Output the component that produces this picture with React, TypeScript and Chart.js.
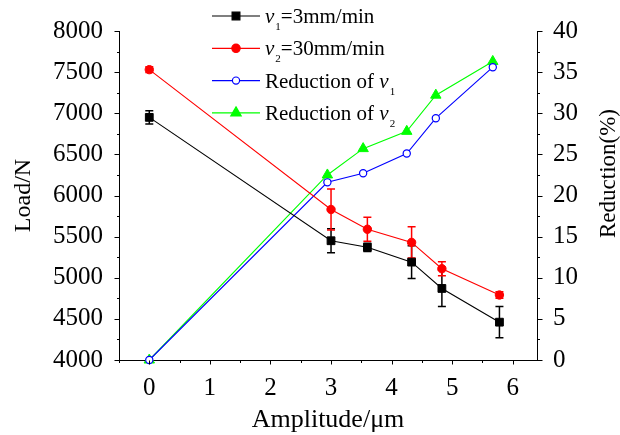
import React, { useEffect, useRef } from 'react';
import { Chart, registerables } from 'chart.js';

Chart.register(...registerables);

// ---- data ----
const loadAmplitude = [0, 3.0, 3.6, 4.33, 4.83, 5.78];
const reductionAmplitude = [0, 2.94, 3.53, 4.25, 4.73, 5.67];
const loadV1 = [6950, 5450, 5370, 5190, 4870, 4460];
const loadV1Err = [80, 145, 50, 200, 220, 190];
const loadV2 = [7530, 5830, 5590, 5430, 5110, 4790];
const loadV2Err = [35, 250, 145, 190, 85, 40];
const reductionV1 = [0, 21.6, 22.7, 25.1, 29.4, 35.6];
const reductionV2 = [0, 22.5, 25.7, 27.8, 32.2, 36.3];

const xMajorTicks = [0, 1, 2, 3, 4, 5, 6];
const xMinorTicks = [-0.5, 0.5, 1.5, 2.5, 3.5, 4.5, 5.5];
const loadMajorTicks = [4000, 4500, 5000, 5500, 6000, 6500, 7000, 7500, 8000];
const loadMinorTicks = [4250, 4750, 5250, 5750, 6250, 6750, 7250, 7750];
const reductionMajorTicks = [0, 5, 10, 15, 20, 25, 30, 35, 40];
const reductionMinorTicks = [2.5, 7.5, 12.5, 17.5, 22.5, 27.5, 32.5, 37.5];

const xTitle = 'Amplitude/\u03bcm';
const loadTitle = 'Load/N';
const reductionTitle = 'Reduction(%)';

type Part = { t: string; i?: boolean; s?: boolean };
const legendV1: Part[] = [{ t: 'v', i: true }, { t: '1', s: true }, { t: '=3mm/min' }];
const legendV2: Part[] = [{ t: 'v', i: true }, { t: '2', s: true }, { t: '=30mm/min' }];
const legendR1: Part[] = [{ t: 'Reduction of ' }, { t: 'v', i: true }, { t: '1', s: true }];
const legendR2: Part[] = [{ t: 'Reduction of ' }, { t: 'v', i: true }, { t: '2', s: true }];

const FONT = '"Liberation Serif", "Times New Roman", serif';

function pts(xs: number[], ys: number[]) {
  return xs.map((x, i) => ({ x, y: ys[i] }));
}

function drawMarker(ctx: CanvasRenderingContext2D, style: string, x: number, y: number, color: string, fill: string, r: number) {
  ctx.save();
  ctx.fillStyle = fill;
  ctx.strokeStyle = color;
  ctx.lineWidth = 1.2;
  ctx.beginPath();
  if (style === 'rect') {
    const s = Math.SQRT1_2 * r;
    ctx.rect(x - s, y - s, 2 * s, 2 * s);
  } else if (style === 'triangle') {
    for (let k = 0; k < 3; k++) {
      const a = -Math.PI / 2 + k * (2 * Math.PI / 3);
      const px = x + Math.cos(a) * r;
      const py = y + Math.sin(a) * r;
      if (k === 0) ctx.moveTo(px, py); else ctx.lineTo(px, py);
    }
    ctx.closePath();
  } else {
    ctx.arc(x, y, r, 0, Math.PI * 2);
  }
  ctx.fill();
  ctx.stroke();
  ctx.restore();
}

const errorBarPlugin = {
  id: 'errorBars',
  beforeDatasetsDraw(chart: any) {
    const ctx = chart.ctx as CanvasRenderingContext2D;
    chart.data.datasets.forEach((ds: any) => {
      if (!ds.errors) return;
      const xs = chart.scales.x;
      const ys = chart.scales[ds.yAxisID];
      ctx.save();
      ctx.strokeStyle = ds.borderColor;
      ctx.lineWidth = 1.5;
      ds.data.forEach((p: any, j: number) => {
        const e = ds.errors[j];
        const px = xs.getPixelForValue(p.x);
        const top = ys.getPixelForValue(p.y + e);
        const bot = ys.getPixelForValue(p.y - e);
        ctx.beginPath();
        ctx.moveTo(px, top);
        ctx.lineTo(px, bot);
        ctx.moveTo(px - 4, top);
        ctx.lineTo(px + 4, top);
        ctx.moveTo(px - 4, bot);
        ctx.lineTo(px + 4, bot);
        ctx.stroke();
      });
      ctx.restore();
    });
  },
};

const tickPlugin = {
  id: 'axisTicks',
  afterDraw(chart: any) {
    const ctx = chart.ctx as CanvasRenderingContext2D;
    const { left, right, bottom, top } = chart.chartArea;
    const x = chart.scales.x;
    const y = chart.scales.y;
    const y1 = chart.scales.y1;
    ctx.save();
    ctx.strokeStyle = '#000';
    ctx.lineWidth = 1;
    ctx.beginPath();
    const b = Math.round(bottom) + 0.5;
    const l = Math.round(left) + 0.5;
    const r = Math.round(right) + 0.5;
    const hx = (v: number, len: number) => {
      const p = Math.round(x.getPixelForValue(v)) + 0.5;
      ctx.moveTo(p, b);
      ctx.lineTo(p, b + len);
    };
    const hy = (v: number, len: number) => {
      const p = Math.round(y.getPixelForValue(v)) + 0.5;
      ctx.moveTo(l, p);
      ctx.lineTo(l - len, p);
    };
    const hy1 = (v: number, len: number) => {
      const p = Math.round(y1.getPixelForValue(v)) + 0.5;
      ctx.moveTo(r, p);
      ctx.lineTo(r + len, p);
    };
    xMajorTicks.forEach((v) => hx(v, 4));
    xMinorTicks.forEach((v) => hx(v, 2.5));
    loadMajorTicks.forEach((v) => hy(v, 5));
    loadMinorTicks.forEach((v) => hy(v, 2.5));
    reductionMajorTicks.forEach((v) => hy1(v, 5));
    reductionMinorTicks.forEach((v) => hy1(v, 2.5));
    ctx.stroke();

    // right axis title, reading bottom-to-top
    ctx.translate(609, (top + bottom) / 2 - 22);
    ctx.rotate(-Math.PI / 2);
    ctx.font = `23px ${FONT}`;
    ctx.fillStyle = '#000';
    ctx.textAlign = 'center';
    ctx.textBaseline = 'middle';
    ctx.fillText(reductionTitle, 0, 0);
    ctx.restore();
  },
};

const legendPlugin = {
  id: 'richLegend',
  afterDraw(chart: any) {
    const ctx = chart.ctx as CanvasRenderingContext2D;
    ctx.save();
    chart.data.datasets.forEach((ds: any, i: number) => {
      const rowY = 16 + i * 32.3;
      ctx.strokeStyle = ds.borderColor;
      ctx.lineWidth = 1.2;
      ctx.beginPath();
      ctx.moveTo(212, rowY);
      ctx.lineTo(260, rowY);
      ctx.stroke();
      drawMarker(ctx, ds.pointStyle, 236, rowY, ds.borderColor, ds.pointBackgroundColor, ds.pointRadius);
      let tx = 265;
      ctx.fillStyle = '#000';
      ctx.textBaseline = 'alphabetic';
      ctx.textAlign = 'left';
      (ds.legendParts as Part[]).forEach((p) => {
        ctx.font = `${p.i ? 'italic ' : ''}${p.s ? 11 : 21}px ${FONT}`;
        ctx.fillText(p.t, tx, rowY + (p.s ? 14 : 7));
        tx += ctx.measureText(p.t).width + (p.i ? 1 : 0);
      });
    });
    ctx.restore();
  },
};

const plain = (v: any) => String(v);

export default function App() {
  const ref = useRef<HTMLCanvasElement | null>(null);
  useEffect(() => {
    if (!ref.current) return;
    const tickFont = { family: FONT, size: 25 };
    const chart = new Chart(ref.current, {
      type: 'line',
      data: {
        datasets: [
          {
            label: 'v1=3mm/min',
            data: pts(loadAmplitude, loadV1),
            yAxisID: 'y',
            borderColor: '#000000',
            backgroundColor: '#000000',
            pointBackgroundColor: '#000000',
            pointStyle: 'rect',
            pointRadius: 5.5,
            borderWidth: 1.1,
            pointBorderWidth: 1,
            clip: false,
            errors: loadV1Err,
            legendParts: legendV1,
          } as any,
          {
            label: 'v2=30mm/min',
            data: pts(loadAmplitude, loadV2),
            yAxisID: 'y',
            borderColor: '#ff0000',
            backgroundColor: '#ff0000',
            pointBackgroundColor: '#ff0000',
            pointStyle: 'circle',
            pointRadius: 4.2,
            borderWidth: 1.1,
            pointBorderWidth: 1,
            clip: false,
            errors: loadV2Err,
            legendParts: legendV2,
          } as any,
          {
            label: 'Reduction of v1',
            data: pts(reductionAmplitude, reductionV1),
            yAxisID: 'y1',
            borderColor: '#0000ff',
            backgroundColor: '#ffffff',
            pointBackgroundColor: '#ffffff',
            pointStyle: 'circle',
            pointRadius: 3.6,
            borderWidth: 1.1,
            pointBorderWidth: 1.2,
            clip: false,
            legendParts: legendR1,
          } as any,
          {
            label: 'Reduction of v2',
            data: pts(reductionAmplitude, reductionV2),
            yAxisID: 'y1',
            borderColor: '#00ff00',
            backgroundColor: '#00ff00',
            pointBackgroundColor: '#00ff00',
            pointStyle: 'triangle',
            pointRadius: 6,
            borderWidth: 1.1,
            pointBorderWidth: 1,
            clip: false,
            legendParts: legendR2,
          } as any,
        ],
      },
      options: {
        responsive: false,
        animation: false,
        layout: { padding: { top: 25, left: 0, right: 0, bottom: 0 } },
        plugins: { legend: { display: false }, tooltip: { enabled: false } },
        elements: { line: { tension: 0 } },
        scales: {
          x: {
            type: 'linear',
            min: -0.5,
            max: 6.4,
            afterBuildTicks: (s: any) => {
              s.ticks = xMajorTicks.map((v) => ({ value: v }));
            },
            afterFit: (s: any) => {
              s.height = 75;
            },
            ticks: { font: tickFont, color: '#000', padding: 13, autoSkip: false, maxRotation: 0, callback: plain },
            grid: { display: false, drawTicks: false, tickLength: 0 },
            border: { display: true, color: '#000', width: 1 },
            title: { display: true, text: xTitle, font: { family: FONT, size: 26, lineHeight: 1.1 }, color: '#000', padding: { top: 0, bottom: 1 } },
          },
          y: {
            type: 'linear',
            position: 'left',
            min: 4000,
            max: 8000,
            afterBuildTicks: (s: any) => {
              s.ticks = loadMajorTicks.map((v) => ({ value: v }));
            },
            afterFit: (s: any) => {
              s.width = 119;
            },
            ticks: { font: tickFont, color: '#000', padding: 16, callback: plain },
            grid: { display: false, drawTicks: false, tickLength: 0 },
            border: { display: true, color: '#000', width: 1 },
            title: { display: true, text: loadTitle, font: { family: FONT, size: 24, lineHeight: 1.2 }, color: '#000', padding: { top: 9, bottom: 0 } },
          },
          y1: {
            type: 'linear',
            position: 'right',
            min: 0,
            max: 40,
            afterBuildTicks: (s: any) => {
              s.ticks = reductionMajorTicks.map((v) => ({ value: v }));
            },
            afterFit: (s: any) => {
              s.width = 83;
            },
            ticks: { font: tickFont, color: '#000', padding: 16, callback: plain },
            grid: { display: false, drawTicks: false, tickLength: 0 },
            border: { display: true, color: '#000', width: 1 },
            title: { display: false },
          },
        },
      } as any,
      plugins: [errorBarPlugin, tickPlugin, legendPlugin],
    });
    return () => chart.destroy();
  }, []);

  return (
    <div style={{ position: 'absolute', left: 0, top: 0, width: 620, height: 435, background: '#fff' }}>
      <canvas ref={ref} width={620} height={435} style={{ display: 'block' }} />
    </div>
  );
}
